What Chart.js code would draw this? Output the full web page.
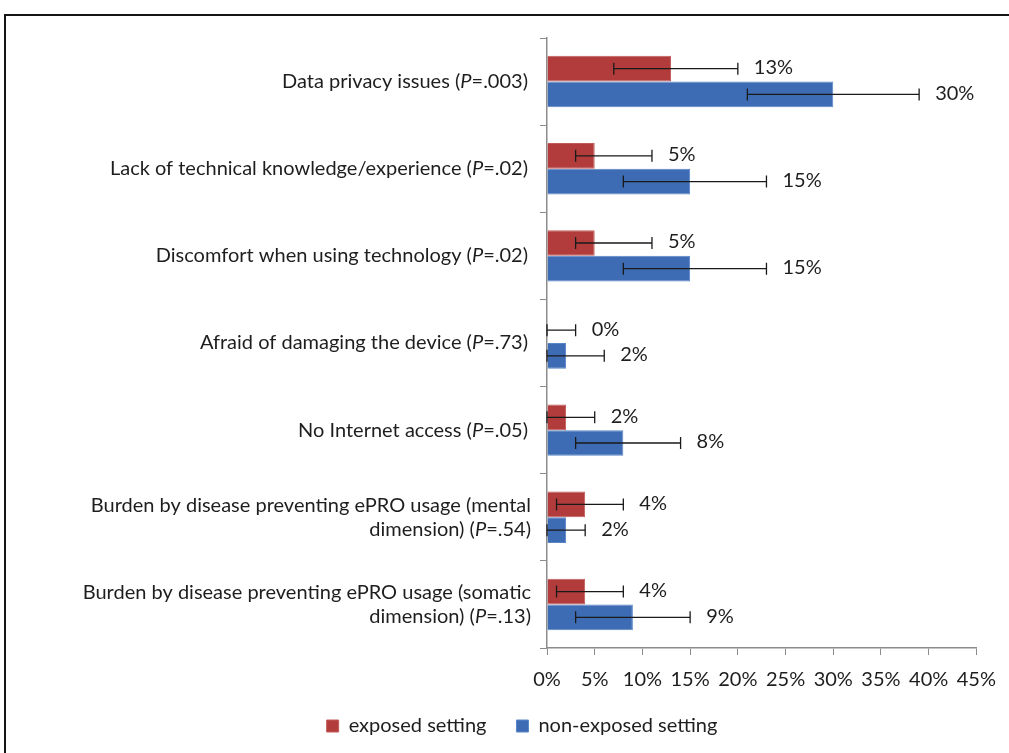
<!DOCTYPE html>
<html>
<head>
<meta charset="utf-8">
<script src="https://cdn.jsdelivr.net/npm/chart.js@4.4.0/dist/chart.umd.min.js"></script>
<style>
  html, body { margin: 0; padding: 0; background: #fff; overflow: hidden; }
  #wrap { position: relative; width: 1009px; height: 753px; }
  #frame { position: absolute; left: 4px; top: 14px; width: 1100px; height: 800px; border: 2px solid #151515; box-sizing: border-box; }
  #chart { position: absolute; left: 0; top: 0; }
</style>
</head>
<body>
<div id="wrap">
  <div id="frame"></div>
  <canvas id="chart" width="1009" height="753"></canvas>
</div>
<script>
// categories (last line gets the P value appended)
const categories = [
    ['Data privacy issues'],
    ['Lack of technical knowledge/experience'],
    ['Discomfort when using technology'],
    ['Afraid of damaging the device'],
    ['No Internet access'],
    ['Burden by disease preventing ePRO usage (mental', 'dimension)'],
    ['Burden by disease preventing ePRO usage (somatic', 'dimension)'],
];
const pValues = ['.003', '.02', '.02', '.73', '.05', '.54', '.13'];

const seriesNames = ['exposed setting', 'non-exposed setting'];
const exposed = [13, 5, 5, 0, 2, 4, 4];
const nonExposed = [30, 15, 15, 2, 8, 2, 9];

// error bar ends, in %
const exposedLow = [7, 3, 3, 0, 0, 1, 1];
const exposedHigh = [20, 11, 11, 3, 5, 8, 8];
const nonExposedLow = [21, 8, 8, 0, 3, 0, 3];
const nonExposedHigh = [39, 23, 23, 6, 14, 4, 15];

const xMax = 45;
const xStep = 5;

const FONT = 'Lato';
const SIZE = 20;
const TEXT = '#1e1e1e';
const errors = [[exposedLow, exposedHigh], [nonExposedLow, nonExposedHigh]];

// error bars + value labels
const errorBarPlugin = {
    id: 'errorBars',
    afterDatasetsDraw(chart) {
        const ctx = chart.ctx;
        const xScale = chart.scales.x;
        ctx.save();
        chart.data.datasets.forEach((ds, d) => {
            const meta = chart.getDatasetMeta(d);
            meta.data.forEach((bar, i) => {
                const x1 = xScale.getPixelForValue(errors[d][0][i]);
                const x2 = xScale.getPixelForValue(errors[d][1][i]);
                const y = bar.y;
                ctx.strokeStyle = '#1a1a1a';
                ctx.lineWidth = 1.3;
                ctx.beginPath();
                ctx.moveTo(x1, y); ctx.lineTo(x2, y);
                ctx.moveTo(x1, y - 6); ctx.lineTo(x1, y + 6);
                ctx.moveTo(x2, y - 6); ctx.lineTo(x2, y + 6);
                ctx.stroke();

                ctx.fillStyle = TEXT;
                ctx.font = SIZE + 'px ' + FONT;
                ctx.textAlign = 'left';
                ctx.textBaseline = 'middle';
                ctx.fillText(ds.data[i] + '%', x2 + 16, y - 1);
            });
        });
        ctx.restore();
    }
};

// category labels with italic P
const categoryLabelPlugin = {
    id: 'categoryLabels',
    afterDraw(chart) {
        const ctx = chart.ctx;
        const yScale = chart.scales.y;
        const lineH = 24;
        const normal = SIZE + 'px ' + FONT;
        const italic = 'italic ' + SIZE + 'px ' + FONT;
        ctx.save();
        ctx.fillStyle = TEXT;
        ctx.textBaseline = 'middle';
        ctx.textAlign = 'left';
        categories.forEach((lines, i) => {
            const cy = yScale.getPixelForValue(i);
            const top = cy - (lines.length - 1) * lineH / 2;
            const right = chart.chartArea.left - (lines.length > 1 ? 16 : 19);
            lines.forEach((line, k) => {
                const y = top + k * lineH;
                let parts = [[line, normal]];
                if (k === lines.length - 1) {
                    parts = [[line + ' (', normal], ['P', italic], ['=' + pValues[i] + ')', normal]];
                }
                let w = 0;
                parts.forEach(p => { ctx.font = p[1]; w += ctx.measureText(p[0]).width; });
                let x = right - w;
                parts.forEach(p => {
                    ctx.font = p[1];
                    ctx.fillText(p[0], x, y);
                    x += ctx.measureText(p[0]).width;
                });
            });
        });
        ctx.restore();
    }
};

const ctx = document.getElementById('chart').getContext('2d');
const chart = new Chart(ctx, {
    type: 'bar',
    data: {
        labels: categories.map(c => c.join(' ')),
        datasets: [
            {
                label: seriesNames[0],
                data: exposed,
                backgroundColor: '#B23C3C',
                borderColor: '#C25A5A',
                borderWidth: 1,
            },
            {
                label: seriesNames[1],
                data: nonExposed,
                backgroundColor: '#3E6CB4',
                borderColor: '#5A86C6',
                borderWidth: 1,
            },
        ],
    },
    options: {
        indexAxis: 'y',
        responsive: false,
        animation: false,
        layout: { padding: { left: 63, right: 28, top: 38, bottom: 7 } },
        scales: {
            x: {
                min: 0,
                max: xMax,
                ticks: {
                    stepSize: xStep,
                    color: TEXT,
                    font: { family: FONT, size: SIZE },
                    padding: 13,
                    callback: v => v + '%',
                },
                grid: { drawOnChartArea: false, drawTicks: true, tickLength: 7, color: '#8c8c8c' },
                border: { color: '#8c8c8c', width: 1.5 },
                afterFit(scale) { scale.height = 38; },
            },
            y: {
                ticks: { display: false },
                grid: { offset: true, drawOnChartArea: false, drawTicks: true, tickLength: 7, color: '#8c8c8c' },
                border: { color: '#8c8c8c', width: 1.5 },
                afterFit(scale) { scale.width = 547 - 63; },
            },
        },
        datasets: { bar: { barPercentage: 1, categoryPercentage: 0.59 } },
        plugins: {
            tooltip: { enabled: false },
            legend: {
                position: 'bottom',
                labels: {
                    boxWidth: 12,
                    boxHeight: 12,
                    padding: 30,
                    color: TEXT,
                    font: { family: FONT, size: SIZE },
                },
            },
        },
    },
    plugins: [errorBarPlugin, categoryLabelPlugin],
});
</script>
</body>
</html>
